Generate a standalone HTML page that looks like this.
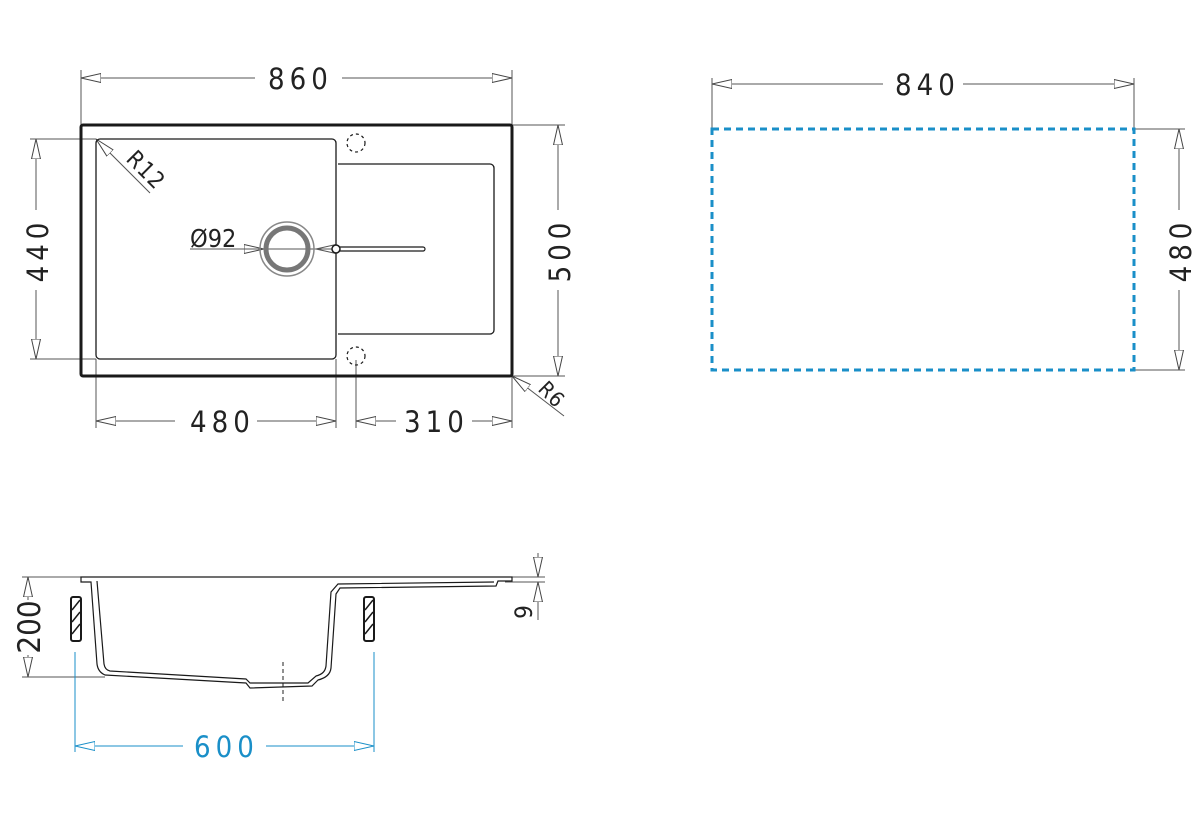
<!DOCTYPE html>
<html><head><meta charset="utf-8"><style>
html,body{margin:0;padding:0;background:#fff;width:1200px;height:821px;overflow:hidden}
text{font-family:"DejaVu Sans Condensed","DejaVu Sans","Liberation Sans",sans-serif;font-size:29px;fill:#222;letter-spacing:5px}
</style></head><body>
<svg width="1200" height="821" viewBox="0 0 1200 821" xmlns="http://www.w3.org/2000/svg">
<defs>
<marker id="a" viewBox="0 0 20 10" refX="20" refY="5" markerWidth="20" markerHeight="10" markerUnits="userSpaceOnUse" orient="auto-start-reverse">
<path d="M0,0.5 L20,5 L0,9.5 Z" fill="#fff" stroke="#444" stroke-width="1"/></marker>
<marker id="b" viewBox="0 0 20 10" refX="20" refY="5" markerWidth="20" markerHeight="10" markerUnits="userSpaceOnUse" orient="auto-start-reverse">
<path d="M0,0.5 L20,5 L0,9.5 Z" fill="#fff" stroke="#1a8fc8" stroke-width="1"/></marker>
</defs>
<g stroke="#555" stroke-width="1" fill="none">
<line x1="81" y1="70" x2="81" y2="125"/><line x1="512" y1="70" x2="512" y2="125"/>
<line x1="81" y1="78" x2="255" y2="78" marker-start="url(#a)"/><line x1="342" y1="78" x2="512" y2="78" marker-end="url(#a)"/>
<line x1="30" y1="139" x2="96" y2="139"/><line x1="30" y1="359" x2="96" y2="359"/>
<line x1="36" y1="139" x2="36" y2="210" marker-start="url(#a)"/><line x1="36" y1="290" x2="36" y2="359" marker-end="url(#a)"/>
<line x1="512" y1="125" x2="565" y2="125"/><line x1="512" y1="376" x2="565" y2="376"/>
<line x1="558" y1="125" x2="558" y2="210" marker-start="url(#a)"/><line x1="558" y1="290" x2="558" y2="376" marker-end="url(#a)"/>
<line x1="96" y1="359" x2="96" y2="428"/><line x1="336" y1="359" x2="336" y2="428"/><line x1="356" y1="360" x2="356" y2="428"/><line x1="512" y1="376" x2="512" y2="428"/>
<line x1="96" y1="421" x2="175" y2="421" marker-start="url(#a)"/><line x1="257" y1="421" x2="336" y2="421" marker-end="url(#a)"/>
<line x1="356" y1="421" x2="396" y2="421" marker-start="url(#a)"/><line x1="472" y1="421" x2="512" y2="421" marker-end="url(#a)"/>
<line x1="150" y1="193" x2="96" y2="139" marker-end="url(#a)"/>
<line x1="564" y1="416" x2="512" y2="376" marker-end="url(#a)"/>
<line x1="192" y1="249" x2="264" y2="249" marker-end="url(#a)"/>
<path d="M316,249 L336,244.5 L336,253.5 Z" fill="#fff"/>
<line x1="190" y1="249" x2="336" y2="249"/>
</g>
<g fill="none" stroke="#1a1a1a">
<rect x="81" y="125" width="431" height="251" rx="2" stroke-width="3"/>
<rect x="96" y="139" width="240" height="220" rx="4" stroke-width="1.3"/>
<path d="M338,164 H490 a4,4 0 0 1 4,4 V330 a4,4 0 0 1 -4,4 H338" stroke-width="1.3"/>
<circle cx="356" cy="143" r="9" stroke-dasharray="3,3" stroke-width="1.2"/>
<circle cx="356" cy="356" r="9" stroke-dasharray="3,3" stroke-width="1.2"/>
<circle cx="287" cy="249" r="27" stroke="#888" stroke-width="1.5"/>
<circle cx="287" cy="249" r="21" stroke="#777" stroke-width="5"/>
<rect x="338" y="247" width="87" height="4" rx="2" stroke-width="1.2" fill="#fff"/>
<circle cx="336" cy="249" r="4" fill="#fff" stroke-width="1.5"/>
</g>
<text x="268" y="89">860</text>
<text x="190" y="432">480</text>
<text x="404" y="432">310</text>
<text x="190" y="247" style="font-size:25px;letter-spacing:0">Ø92</text>
<text transform="translate(48,250) rotate(-90)" text-anchor="middle">440</text>
<text transform="translate(570,250) rotate(-90)" text-anchor="middle">500</text>
<text transform="translate(125,160) rotate(45)" style="font-size:23px;letter-spacing:1px">R12</text>
<text transform="translate(537,390) rotate(45)" style="font-size:21px;letter-spacing:1px">R6</text>

<g stroke="#555" stroke-width="1" fill="none">
<line x1="712" y1="78" x2="712" y2="128"/><line x1="1134" y1="78" x2="1134" y2="128"/>
<line x1="712" y1="84" x2="883" y2="84" marker-start="url(#a)"/><line x1="963" y1="84" x2="1134" y2="84" marker-end="url(#a)"/>
<line x1="1134" y1="129" x2="1185" y2="129"/><line x1="1134" y1="370" x2="1185" y2="370"/>
<line x1="1179" y1="129" x2="1179" y2="210" marker-start="url(#a)"/><line x1="1179" y1="290" x2="1179" y2="370" marker-end="url(#a)"/>
</g>
<rect x="712" y="129" width="422" height="241" fill="none" stroke="#1a8fc8" stroke-width="3" stroke-dasharray="7,5"/>
<text x="895" y="95">840</text>
<text transform="translate(1191,250) rotate(-90)" text-anchor="middle">480</text>

<g stroke="#555" stroke-width="1" fill="none">
<line x1="22" y1="577" x2="90" y2="577"/><line x1="22" y1="677" x2="105" y2="677"/>
<line x1="28" y1="577" x2="28" y2="600" marker-start="url(#a)"/><line x1="28" y1="655" x2="28" y2="677" marker-end="url(#a)"/>
<line x1="512" y1="577" x2="545" y2="577"/><line x1="505" y1="582" x2="545" y2="582"/>
<line x1="538" y1="553" x2="538" y2="577" marker-end="url(#a)"/><line x1="538" y1="602" x2="538" y2="582" marker-end="url(#a)"/>
<line x1="538" y1="602" x2="538" y2="620"/>
<line x1="283" y1="662" x2="283" y2="703" stroke="#222" stroke-dasharray="4,3"/>
</g>
<g fill="none" stroke="#1a1a1a" stroke-width="1.2">
<path d="M81,577 H512 V581 L498,581 L496,586 L340,588 L336,594 L331,668 Q330,677 318,680 L312,686 L250,688 L246,683 L105,675 Q98,672 97,664 L91,582 L81,582 Z"/>
<path d="M97,581 L104,664 Q105,670 110,671 L246,679 L250,683 L308,683 L316,676 Q325,674 326,666 L331,592 L338,584 L494,582"/>
</g>
<g stroke="#1a1a1a" stroke-width="1.5" fill="none">
<rect x="71" y="597" width="10" height="44" rx="2" stroke-width="2"/>
<rect x="364" y="597" width="10" height="44" rx="2" stroke-width="2"/>
<path d="M72,610 L80,600 M72,622 L80,612 M72,634 L80,624 M365,610 L373,600 M365,622 L373,612 M365,634 L373,624"/>
</g>
<g stroke="#1a8fc8" stroke-width="1" fill="none">
<line x1="75" y1="652" x2="75" y2="752"/><line x1="374" y1="652" x2="374" y2="752"/>
<line x1="75" y1="746" x2="183" y2="746" marker-start="url(#b)"/><line x1="266" y1="746" x2="374" y2="746" marker-end="url(#b)"/>
</g>
<text x="194" y="757" style="fill:#1a8fc8">600</text>
<text transform="translate(40,627) rotate(-90)" text-anchor="middle" style="font-size:31px;letter-spacing:0">200</text>
<text transform="translate(532,612) rotate(-90)" text-anchor="middle" style="font-size:24px;letter-spacing:0">9</text>
</svg>
</body></html>
